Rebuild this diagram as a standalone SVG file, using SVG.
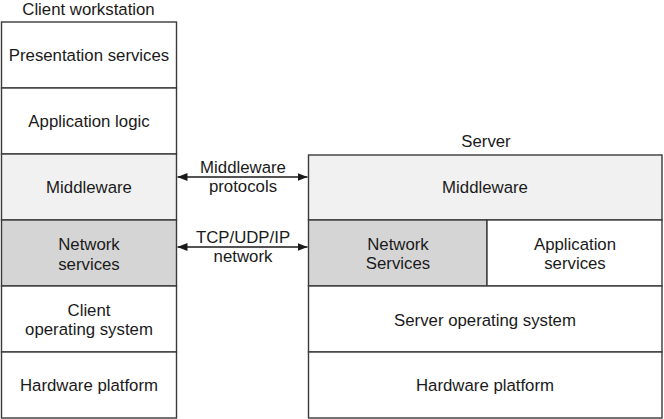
<svg xmlns="http://www.w3.org/2000/svg" width="664" height="419" viewBox="0 0 664 419">
<style>
text{font-family:"Liberation Sans",Arial,sans-serif;font-size:16.8px;fill:#1a1a1a;text-anchor:middle}
.box{stroke:#3a3a3a;stroke-width:1.4;fill:#ffffff}
.light{fill:#f1f1f1}
.dark{fill:#d5d5d5}
.conn{stroke:#1a1a1a;stroke-width:1.3;fill:none;marker-start:url(#ah);marker-end:url(#ah)}
</style>
<defs>
<marker id="ah" viewBox="0 0 10 8" refX="10" refY="4" markerWidth="10" markerHeight="8" markerUnits="userSpaceOnUse" orient="auto-start-reverse">
<path d="M0,0 L10,4 L0,8 Z" fill="#1a1a1a"/>
</marker>
</defs>
<text x="88.5" y="15">Client workstation</text>
<text x="486" y="147">Server</text>
<g id="client-presentation"><rect class="box" x="1.5" y="22" width="175" height="66"/><text x="89" y="61">Presentation services</text></g>
<g id="client-applogic"><rect class="box" x="1.5" y="88" width="175" height="66"/><text x="89" y="127">Application logic</text></g>
<g id="client-middleware"><rect class="box light" x="1.5" y="154" width="175" height="66"/><text x="89" y="193">Middleware</text></g>
<g id="client-network"><rect class="box dark" x="1.5" y="220" width="175" height="66"/><text x="89" y="250">Network</text><text x="89" y="270">services</text></g>
<g id="client-os"><rect class="box" x="1.5" y="286" width="175" height="66"/><text x="89" y="316">Client</text><text x="89" y="335">operating system</text></g>
<g id="client-hw"><rect class="box" x="1.5" y="352" width="175" height="66"/><text x="89" y="391">Hardware platform</text></g>
<g id="server-middleware"><rect class="box light" x="308.5" y="155" width="353.5" height="65"/><text x="485" y="193">Middleware</text></g>
<g id="server-network"><rect class="box dark" x="308.5" y="220" width="178.5" height="66"/><text x="398" y="250">Network</text><text x="398" y="269">Services</text></g>
<g id="server-appservices"><rect class="box" x="487" y="220" width="175" height="66"/><text x="575" y="250">Application</text><text x="575" y="269">services</text></g>
<g id="server-os"><rect class="box" x="308.5" y="286" width="353.5" height="66"/><text x="485" y="326">Server operating system</text></g>
<g id="server-hw"><rect class="box" x="308.5" y="352" width="353.5" height="66"/><text x="485" y="391">Hardware platform</text></g>
<g id="connectors">
<line class="conn" x1="177.5" y1="177" x2="307.5" y2="177"/>
<line class="conn" x1="177.5" y1="247" x2="307.5" y2="247"/>
<text x="243" y="173">Middleware</text><text x="243" y="192">protocols</text>
<text x="243" y="243">TCP/UDP/IP</text><text x="243" y="262">network</text>
</g>
</svg>
